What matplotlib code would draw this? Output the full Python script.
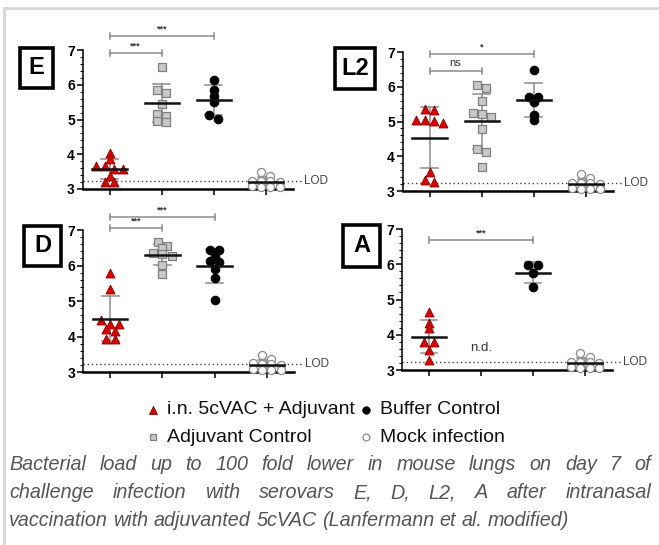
import numpy as np
import matplotlib
matplotlib.use("Agg")
import matplotlib.pyplot as plt
from matplotlib.patches import Rectangle
from matplotlib.lines import Line2D

plt.rcParams['font.family'] = ['Liberation Sans', 'DejaVu Sans']

# ---------------- data (log10 IFU per lung) ----------------
group_names = ["i.n. 5cVAC + Adjuvant", "Adjuvant Control", "Buffer Control", "Mock infection"]
panel_names = ["E", "L2", "D", "A"]

E_vaccine = [4.05, 3.86, 3.65, 3.65, 3.57, 3.57, 3.36, 3.19, 3.19]
E_adjuvant = [6.52, 5.85, 5.76, 5.45, 5.16, 5.11, 4.96, 4.94]
E_buffer = [6.14, 5.85, 5.69, 5.50, 5.13, 5.01]

L2_vaccine = [5.35, 5.32, 5.05, 5.03, 5.01, 4.96, 3.56, 3.31, 3.26]
L2_adjuvant = [6.04, 5.97, 5.59, 5.25, 5.23, 5.13, 4.77, 4.22, 4.12, 3.69]
L2_buffer = [6.47, 5.70, 5.70, 5.56, 5.20, 5.05]

D_vaccine = [5.78, 5.35, 4.46, 4.36, 4.34, 4.22, 4.16, 3.93, 3.93]
D_adjuvant = [6.67, 6.55, 6.50, 6.35, 6.33, 6.28, 6.02, 5.76]
D_buffer = [6.45, 6.45, 6.27, 6.12, 6.10, 5.90, 5.65, 5.02]

A_vaccine = [4.65, 4.34, 4.18, 3.80, 3.80, 3.57, 3.28]
A_adjuvant = []  # n.d.
A_buffer = [5.97, 5.97, 5.75, 5.36]

mock_infection = [3.48, 3.38, 3.24, 3.22, 3.22, 3.20, 3.08, 3.06, 3.05, 3.05]

LOD = 3.22
y_ticks = [3, 4, 5, 6, 7]

E_sig = [(1, 2, "***"), (1, 3, "***")]
L2_sig = [(1, 2, "ns"), (1, 3, "*")]
D_sig = [(1, 2, "***"), (1, 3, "***")]
A_sig = [(1, 3, "***")]

caption_lines = [
    "Bacterial load up to 100 fold lower in mouse lungs on day 7 of",
    "challenge infection with serovars E, D, L2, A after intranasal",
    "vaccination with adjuvanted 5cVAC (Lanfermann et al. modified)",
]

# ---------------- layout ----------------
W, H = 659, 545
fig = plt.figure(figsize=(W / 100, H / 100), dpi=100)


def fx(x):
    return x / W


def fy(y):
    return 1 - y / H


styles = [
    dict(marker="^", s=42, c="#e00000", edgecolors="#8a0000", linewidths=0.6),
    dict(marker="s", s=34, c="#c8c8c8", edgecolors="#808080", linewidths=0.9),
    dict(marker="o", s=40, c="#000000", edgecolors="#000000", linewidths=0.6),
    dict(marker="o", s=34, c="white", edgecolors="#8c8c8c", linewidths=0.9),
]


def swarm(vals, step=0.175, tol=0.13):
    vals = np.asarray(vals, float)
    offs = np.zeros(len(vals))
    if len(vals) == 0:
        return offs
    order = np.argsort(-vals, kind="stable")
    rows = []
    for i in order:
        if rows and rows[-1][0] - vals[i] <= tol:
            rows[-1][1].append(i)
        else:
            rows.append([vals[i], [i]])
    for _, idx in rows:
        n = len(idx)
        for k, i in enumerate(idx):
            offs[i] = (k - (n - 1) / 2) * step
    return offs


# axes rectangles in px: left, top(y=7), right, bottom(y=3)
rects = {
    "E": (82.5, 50, 293, 189),
    "L2": (402.5, 52, 613, 191),
    "D": (83, 230, 294, 372),
    "A": (402, 229, 612, 370),
}
boxes = {
    "E": (20, 48, 53, 88),
    "L2": (335, 48, 375, 89),
    "D": (24, 226, 61, 266),
    "A": (343, 225, 380, 267),
}
sig_levels = {  # bracket y in data units for each comparison
    "E": [6.91, 7.40],
    "L2": [6.45, 6.94],
    "D": [7.06, 7.37],
    "A": [6.69],
}
panels = {
    "E": ([E_vaccine, E_adjuvant, E_buffer, mock_infection], E_sig),
    "L2": ([L2_vaccine, L2_adjuvant, L2_buffer, mock_infection], L2_sig),
    "D": ([D_vaccine, D_adjuvant, D_buffer, mock_infection], D_sig),
    "A": ([A_vaccine, A_adjuvant, A_buffer, mock_infection], A_sig),
}

for name in panel_names:
    groups, sigs = panels[name]
    l, t, r, b = rects[name]
    ax = fig.add_axes([fx(l), fy(b), (r - l) / W, (b - t) / H])
    ax.set_xlim(0.48, 4.52)
    ax.set_ylim(3, 7)
    ax.patch.set_alpha(0)
    for sp in ["top", "right"]:
        ax.spines[sp].set_visible(False)
    ax.spines["left"].set_linewidth(1.1)
    ax.spines["bottom"].set_linewidth(1.8)
    ax.set_xticks([1, 2, 3, 4])
    ax.set_xticklabels([])
    ax.tick_params(axis="x", length=4, width=1.1, direction="out")
    ax.set_yticks(y_ticks)
    ax.set_yticklabels([str(v) for v in y_ticks], fontsize=10, fontweight="bold")
    ax.set_yticks(np.arange(3, 7.01, 0.2), minor=True)
    ax.tick_params(axis="y", which="major", length=4, width=1.1, pad=1.5)
    ax.tick_params(axis="y", which="minor", length=2, width=0.8)

    # LOD line
    ax.plot([0.48, 4.72], [LOD, LOD], ls=(0, (1, 2)), color="#444444", lw=1.0, clip_on=False, zorder=1)
    ax.text(4.74, LOD, "LOD", fontsize=8.5, color="#444444", va="center", ha="left")

    for gi, vals in enumerate(groups):
        x0 = gi + 1
        if len(vals) == 0:
            ax.text(x0, 3.62, "n.d.", fontsize=9.5, color="#333333", ha="center", va="center")
            continue
        v = np.asarray(vals, float)
        xs = x0 + swarm(v)
        m = v.mean()
        sd = v.std(ddof=1)
        ax.plot([x0, x0], [m - sd, m + sd], color="#8c8c8c", lw=1.1, zorder=2)
        for yy in (m - sd, m + sd):
            ax.plot([x0 - 0.16, x0 + 0.16], [yy, yy], color="#8c8c8c", lw=1.1, zorder=2)
        ax.scatter(xs, v, zorder=3, clip_on=False, **styles[gi])
        ax.plot([x0 - 0.33, x0 + 0.33], [m, m], color="#111111", lw=1.8, zorder=4)

    for (g1, g2, lab), lev in zip(sigs, sig_levels[name]):
        ax.plot([g1, g2], [lev, lev], color="#8c8c8c", lw=1.1, clip_on=False)
        for gx in (g1, g2):
            ax.plot([gx, gx], [lev - 0.08, lev + 0.08], color="#8c8c8c", lw=1.1, clip_on=False)
        if lab == "ns":
            ax.text((g1 + g2) / 2, lev + 0.08, lab, fontsize=8, color="#333333",
                    ha="center", va="bottom")
        else:
            ax.text((g1 + g2) / 2, lev + 0.06, lab, fontsize=6.5, color="#333333",
                    ha="center", va="bottom", fontweight="bold")

    # panel label box
    bl, bt, br, bb = boxes[name]
    fig.add_artist(Rectangle((fx(bl), fy(bb)), (br - bl) / W, (bb - bt) / H,
                             transform=fig.transFigure, fill=False, lw=2.6, ec="black"))
    fig.text(fx((bl + br) / 2), fy((bt + bb) / 2), name, fontsize=17, fontweight="bold",
             ha="center", va="center")

# frame
fig.add_artist(Line2D([fx(4), fx(659)], [fy(8), fy(8)], transform=fig.transFigure,
                      color="#d6d6d6", lw=2))
fig.add_artist(Line2D([fx(4), fx(4)], [fy(8), fy(545)], transform=fig.transFigure,
                      color="#d6d6d6", lw=2))

# legend
leg_pos = [(153, 410), (153, 437), (366, 410), (366, 437)]
for gi, (px, py) in enumerate(leg_pos):
    st = dict(styles[gi])
    fig.add_artist(Line2D([fx(px)], [fy(py)], transform=fig.transFigure,
                          marker=st["marker"], markersize=np.sqrt(st["s"]) * 0.85,
                          markerfacecolor=st["c"], markeredgecolor=st["edgecolors"],
                          markeredgewidth=st["linewidths"], ls="none"))
    fig.text(fx(px + 14), fy(py), group_names[gi], fontsize=14, ha="left", va="center",
             color="#111111")

# justified caption
renderer = fig.canvas.get_renderer()
cap_left, cap_right = 9, 651
cap_ys = [464, 493, 521]
cap_fs = 14.2
for li, (line, cy) in enumerate(zip(caption_lines, cap_ys)):
    words = line.split(" ")
    texts = [fig.text(0, fy(cy), w, fontsize=cap_fs, style="italic", color="#555555",
                      ha="left", va="center") for w in words]
    widths = [t.get_window_extent(renderer).width for t in texts]
    if li < len(caption_lines) - 1:
        gap = (cap_right - cap_left - sum(widths)) / (len(words) - 1)
    else:
        sp = fig.text(0, 0, "a a", fontsize=cap_fs, style="italic")
        sp2 = fig.text(0, 0, "aa", fontsize=cap_fs, style="italic")
        gap = sp.get_window_extent(renderer).width - sp2.get_window_extent(renderer).width
        sp.remove()
        sp2.remove()
    x = cap_left
    for t, w in zip(texts, widths):
        t.set_x(fx(x))
        x += w + gap

fig.savefig("out.png", dpi=100)
